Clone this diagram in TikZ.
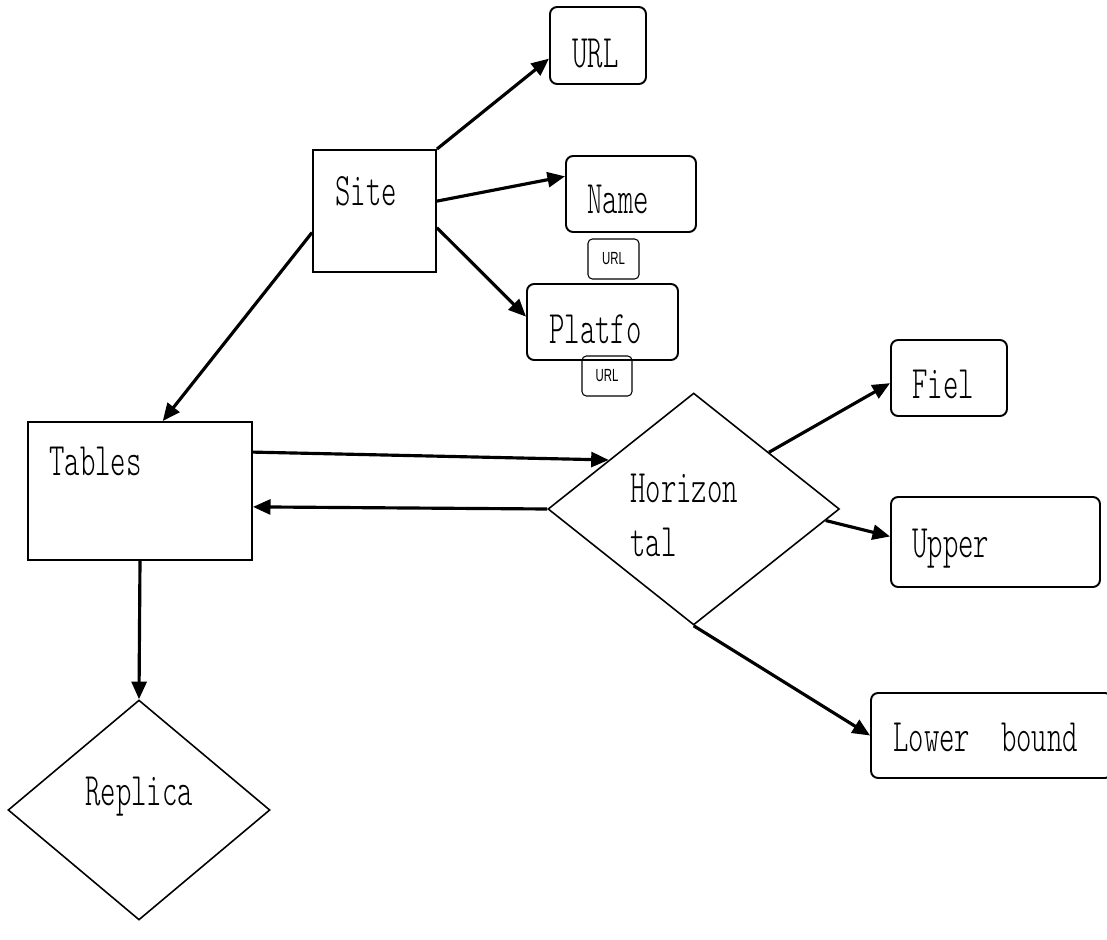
\documentclass[tikz,border=0pt]{standalone}
\usepackage{fontspec}
\setmainfont{lmmonolt10-regular.otf}[FakeStretch=0.63]
\newfontfamily\tagfont{Liberation Sans}[FakeStretch=0.65]
\usepackage{tikz}
\usetikzlibrary{arrows.meta,shapes.geometric}

\begin{document}
\begin{tikzpicture}[x=0.02cm, y=-0.02cm,
  every node/.style={font=\fontsize{26.5}{30}\selectfont, inner sep=0pt},
  sqbox/.style 2 args={draw, line width=1.1pt, minimum width=#1, minimum height=#2},
  rbox/.style 2 args={draw, rounded corners=4pt, line width=1.1pt, minimum width=#1, minimum height=#2},
  tagbox/.style={draw, rounded corners=2.5pt, line width=0.6pt, minimum width=1.02cm,
    minimum height=0.8cm, font=\tagfont\fontsize{10}{12}\selectfont},
  rel/.style 2 args={diamond, draw, line width=0.9pt, minimum width=#1, minimum height=#2},
  lbl/.style={anchor=base west},
  link/.style={-{Triangle[length=10pt,width=8.5pt]}, line width=1.8pt}]
\useasboundingbox (0,0) rectangle (1107,940);
% ---- site and what hangs off it
\node[sqbox={2.46cm}{2.44cm}] (site) at (374.5,211) {};
\node[lbl] (site-t) at (335,205) {Site};
\node[rbox={1.92cm}{1.54cm}] (url) at (598,45.5) {};
\node[lbl] (url-t) at (572,67) {URL};
\node[rbox={2.6cm}{1.52cm}] (name) at (631,194) {};
\node[lbl] (name-t) at (587,213) {Name};
\node[tagbox] (tag-a) at (613.5,259) {URL};
\node[rbox={3.02cm}{1.52cm}] (platfo) at (602.5,322) {};
\node[lbl] (platfo-t) at (549,343) {Platfo};
\node[tagbox, minimum width=1.0cm] (tag-b) at (607,376) {URL};
% ---- tables, partitioning, replicas
\node[sqbox={4.48cm}{2.76cm}] (tables) at (140,491) {};
\node[lbl] (tables-t) at (49,475) {Tables};
\node[rel={5.83cm}{4.64cm}] (horiz) at (693.7,509) {};
\node[lbl] (horiz-t1) at (630,502) {Horizon};
\node[lbl] (horiz-t2) at (630,556) {tal};
\node[rbox={2.32cm}{1.52cm}] (fiel) at (949,378) {};
\node[lbl] (fiel-t) at (912,398) {Fiel};
\node[rbox={4.18cm}{1.8cm}] (upper) at (995.5,542) {};
\node[lbl] (upper-t) at (912,557) {Upper};
\node[rbox={4.82cm}{1.7cm}] (lower) at (991.5,735.5) {};
\node[lbl] (lower-t) at (893,751) {Lower~~bound};
\node[rel={5.24cm}{4.4cm}] (replica) at (139,810) {};
\node[lbl] (replica-t) at (85,805) {Replica};
% ---- links
\draw[link] (site.north east) -- (url.195);
\draw[link] (site.9) -- (name.165);
\draw[link] (site.-15) -- (platfo.176);
\draw[link] (site.199) -- (tables.72);
\draw[link] (tables.19) -- (horiz.150);
\draw[link] (horiz.west) -- (tables.-8);
\draw[link] (horiz.37) -- (fiel.185);
\draw[link] (horiz.-5) -- (upper.177);
\draw[link] (horiz.south) -- (lower.west);
\draw[link] (tables.south) -- (replica.north);
\end{tikzpicture}
\end{document}
